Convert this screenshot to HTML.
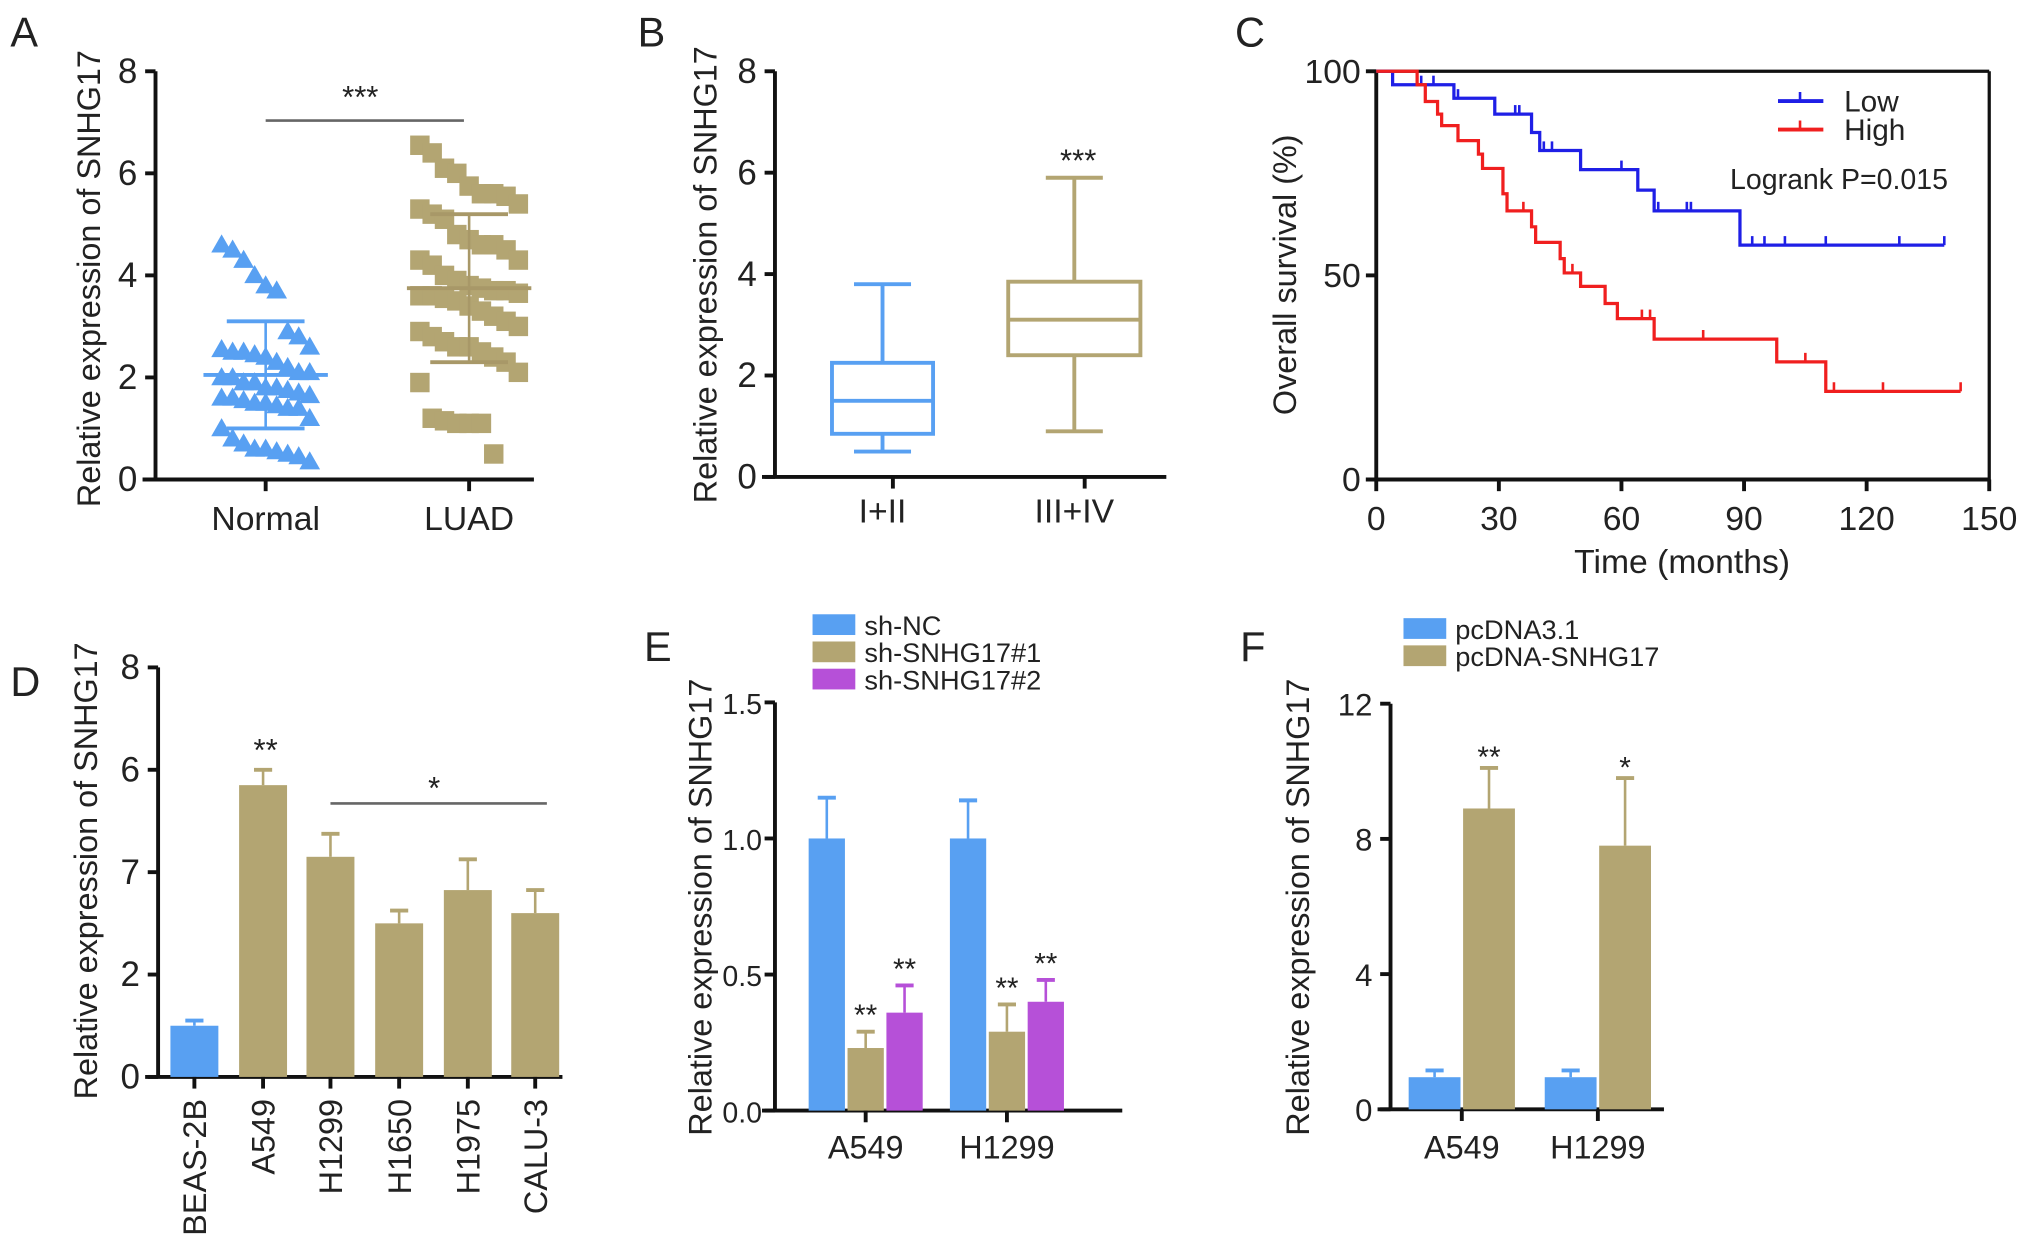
<!DOCTYPE html>
<html><head><meta charset="utf-8"><style>
html,body{margin:0;padding:0;background:#fff;}
svg{display:block;font-family:"Liberation Sans",Arial,sans-serif;}
</style></head><body>
<svg id="fig" width="2032" height="1259" viewBox="0 0 1568 971.5" preserveAspectRatio="none" xmlns="http://www.w3.org/2000/svg"></svg>
<script>
// ---------- DATA ----------
const aCategories=["Normal","LUAD"];
const aNormal=[4.6,4.5,4.3,4.0,3.8,3.7,2.9,2.8,2.6,2.55,2.5,2.5,2.45,2.4,2.3,2.2,2.1,2.1,2.0,2.0,1.9,1.9,1.8,1.8,1.75,1.7,1.65,1.6,1.6,1.55,1.5,1.5,1.45,1.4,1.4,1.2,1.0,0.8,0.7,0.6,0.6,0.55,0.5,0.45,0.35];
const aLuad=[6.55,6.4,6.1,6.0,5.75,5.6,5.6,5.55,5.4,5.3,5.2,5.1,4.8,4.7,4.6,4.6,4.5,4.3,4.3,4.2,4.0,3.9,3.8,3.75,3.7,3.7,3.65,3.6,3.6,3.55,3.5,3.4,3.3,3.2,3.1,3.0,2.9,2.8,2.7,2.6,2.6,2.5,2.4,2.3,2.1,1.9,1.2,1.15,1.1,1.1,1.1,0.5];
const aMeanSd=[[2.05,1.0,3.1],[3.75,2.3,5.2]];
const yTicks8=[0,2,4,6,8];

const bCategories=["I+II","III+IV"];
const bBoxes=[[0.5,0.85,1.5,2.25,3.8],[0.9,2.4,3.1,3.85,5.9]];

const cTicksX=[0,30,60,90,120,150];
const cTicksY=[0,50,100];
const lowT=[0,4,19,29,38,40,50,64,68,89,139];
const lowS=[100,96.7,93.4,89.5,85,80.6,75.9,70.9,65.8,57.4,57.4];
const lowCens=[11,14,20,34,35,41,43,60,69,76,77,92,95,100,110,128,139];
const highT=[0,10,12,15,16,20,25,26,31,32,38,39,45,46,50,56,59,68,98,110,143];
const highS=[100,96.7,92.6,89.5,86.7,83,79.7,76.2,70,65.8,61.9,58.1,54.1,50.6,47.3,43.1,39.4,34.4,28.8,21.6,21.6];
const highCens=[36,48,65,67,80,105,112,124,143];

const dCategories=["BEAS-2B","A549","H1299","H1650","H1975","CALU-3"];
const dValues=[1.0,5.7,4.3,3.0,3.65,3.2];
const dErr=[0.1,0.3,0.45,0.25,0.6,0.45];
const dTickLabels=["0","2","7","6","8"];

const eGroups=["A549","H1299"];
const eSeries=["sh-NC","sh-SNHG17#1","sh-SNHG17#2"];
const eValues=[[1.0,0.23,0.36],[1.0,0.29,0.40]];
const eErr=[[0.15,0.06,0.10],[0.14,0.10,0.08]];
const eTicks=[0,0.5,1.0,1.5];

const fGroups=["A549","H1299"];
const fSeries=["pcDNA3.1","pcDNA-SNHG17"];
const fValues=[[0.95,8.9],[0.95,7.8]];
const fErr=[[0.2,1.2],[0.2,2.0]];
const fTicks=[0,4,8,12];

// ---------- HELPERS ----------
const NS="http://www.w3.org/2000/svg";
const svg=document.getElementById('fig');
const BLUE="#58a0f2",TAN="#b3a572",PURPLE="#b650d8";
function mk(tag,attrs,parent,txt){const e=document.createElementNS(NS,tag);for(const k in attrs)e.setAttribute(k,attrs[k]);if(txt!==undefined)e.textContent=txt;(parent||svg).appendChild(e);return e;}
function lin(d0,d1,r0,r1){return v=>r0+(v-d0)*(r1-r0)/(d1-d0);}
function g(name){const e=mk('g',{});


return e;}
function line(p,x1,y1,x2,y2,st,w,name){const e=mk('line',{x1,y1,x2,y2,stroke:st,'stroke-width':w},p);


return e;}
function text(p,x,y,s,size,anchor,name,extra){const a={x,y,'font-size':size,'text-anchor':anchor||'middle',fill:'#222'};if(extra)for(const k in extra)a[k]=extra[k];const e=mk('text',a,p,s);


return e;}
function yAxis(p,x,y0,y1,ys,ticks,labels,fs,off){line(p,x,y0+1,x,y1,'#111',3,'y-axis-line');
ticks.forEach((t,i)=>{const y=ys(t);line(p,x-8,y,x,y,'#111',3,'y-tick');text(p,x-(off||14),y+9,labels?labels[i]:String(t),fs||26,'end','y-tick-label');});}
function yTitle(p,x,y,s){text(p,x,y,s,25,'middle','y-axis-title',{transform:`rotate(-90 ${x} ${y})`});}
function letter(x,y,s){text(svg,x,y,s,32,'start','panel-label-'+s.toLowerCase());}

// ---------- PANEL A ----------
(function(){const p=g('panel-a');letter(8,36,'A');
const ys=lin(0,8,370,55);const xs=[205,362];
yTitle(p,77,215,'Relative expression of SNHG17');
yAxis(p,120,370,55,ys,yTicks8,null,27);
line(p,110,370,412,370,'#111',3,'x-axis-line');
aCategories.forEach((c,i)=>{line(p,xs[i],370,xs[i],379,'#111',3,'x-tick');text(p,xs[i],409,c,26,'middle','x-tick-label');});
aNormal.forEach((v,i)=>{const x=xs[0]+(((i*37)%9)-4)*8.5;const y=ys(v);
const t=mk('polygon',{points:`${x},${y-8} ${x-8},${y+6} ${x+8},${y+6}`,fill:BLUE},p);

});
aLuad.forEach((v,i)=>{const x=xs[1]+(((i*37)%9)-4)*9.5;const y=ys(v);
const r=mk('rect',{x:x-7.5,y:y-7.5,width:15,height:15,fill:TAN},p);

});
aMeanSd.forEach((m,i)=>{const col=i?'#a89868':BLUE;line(p,xs[i]-48,ys(m[0]),xs[i]+48,ys(m[0]),col,3,'mean-line');
line(p,xs[i]-30,ys(m[1]),xs[i]+30,ys(m[1]),col,3,'sd-line');line(p,xs[i]-30,ys(m[2]),xs[i]+30,ys(m[2]),col,3,'sd-line');
line(p,xs[i],ys(m[1]),xs[i],ys(m[2]),col,2,'sd-vertical');});
line(p,205,93,358,93,'#666',2,'significance-bar');text(p,278,83,'***',24,'middle','significance-stars');
})();

// ---------- PANEL B ----------
(function(){const p=g('panel-b');letter(492,36,'B');
const ys=lin(0,8,368,55);const xs=[689,837];
yTitle(p,553,212,'Relative expression of SNHG17');
yAxis(p,598,368,55,ys,yTicks8,null,27);
line(p,588,368,900,368,'#111',3,'x-axis-line');
bCategories.forEach((c,i)=>{line(p,xs[i],368,xs[i],377,'#111',3,'x-tick');text(p,xs[i]-8,403,c,26,'middle','x-tick-label');});
bBoxes.forEach((b,i)=>{const col=i?TAN:BLUE;const x=xs[i]-8;const hw=i?51:39;
line(p,x,ys(b[0]),x,ys(b[1]),col,3,'whisker');line(p,x,ys(b[3]),x,ys(b[4]),col,3,'whisker');
line(p,x-22,ys(b[0]),x+22,ys(b[0]),col,3,'whisker-cap');line(p,x-22,ys(b[4]),x+22,ys(b[4]),col,3,'whisker-cap');
const r=mk('rect',{x:x-hw,y:ys(b[3]),width:hw*2,height:ys(b[1])-ys(b[3]),fill:'none',stroke:col,'stroke-width':3},p);


line(p,x-hw,ys(b[2]),x+hw,ys(b[2]),col,3,'median-line');});
text(p,832,132,'***',24,'middle','significance-stars');
})();

// ---------- PANEL C ----------
(function(){const p=g('panel-c');letter(953,36,'C');
const xs=lin(0,150,1062,1535),ys=lin(0,100,370,55);
yTitle(p,1000,212,'Overall survival (%)');
line(p,1062,55,1535,55,'#111',2.5,'plot-frame-top');line(p,1535,55,1535,370,'#111',2.5,'plot-frame-right');
line(p,1062,55,1062,371,'#111',3,'y-axis-line');line(p,1054,370,1536,370,'#111',3,'x-axis-line');
cTicksY.forEach(t=>{line(p,1054,ys(t),1062,ys(t),'#111',3,'y-tick');text(p,1050,ys(t)+9,String(t),26,'end','y-tick-label');});
cTicksX.forEach(t=>{line(p,xs(t),370,xs(t),379,'#111',3,'x-tick');text(p,xs(t),409,String(t),26,'middle','x-tick-label');});
text(p,1298,442,'Time (months)',26,'middle','x-axis-title');
function km(T,S,C,col,name){let d=`M${xs(T[0])},${ys(S[0])}`;for(let i=1;i<T.length;i++){d+=` H${xs(T[i])} V${ys(S[i])}`;}
const e=mk('path',{d,fill:'none',stroke:col,'stroke-width':2.5},p);


C.forEach(c=>{let s=S[0];for(let i=0;i<T.length;i++)if(T[i]<=c)s=S[i];line(p,xs(c),ys(s),xs(c),ys(s)-7,col,2,name+'-censor');});}
km(lowT,lowS,lowCens,'#1f1fe6','low-curve');km(highT,highS,highCens,'#f01f1f','high-curve');
line(p,1372,78,1407,78,'#1f1fe6',3,'legend-low-line');line(p,1389,78,1389,71,'#1f1fe6',2,'legend-low-tick');
text(p,1423,86,'Low',23,'start','legend-low-label');
line(p,1372,100,1407,100,'#f01f1f',3,'legend-high-line');line(p,1389,100,1389,93,'#f01f1f',2,'legend-high-tick');
text(p,1423,108,'High',23,'start','legend-high-label');
text(p,1335,146,'Logrank P=0.015',22,'start','logrank-annotation');
})();

// ---------- bar helper ----------
function bar(p,x,w,ys,v,e,col,name){const y=ys(v);const r=mk('rect',{x:x-w/2,y,width:w,height:ys(0)-y,fill:col},p);


line(p,x,y,x,ys(v+e),col,2,name+'-error');line(p,x-7,ys(v+e),x+7,ys(v+e),col,3,name+'-error-cap');}

// ---------- PANEL D ----------
(function(){const p=g('panel-d');letter(8,537,'D');
const ys=lin(0,8,831,515);const xs=[150,203,255,308,361,413];
yTitle(p,75,672,'Relative expression of SNHG17');
yAxis(p,122,831,515,ys,yTicks8,dTickLabels,27);
line(p,112,831,434,831,'#111',3,'x-axis-line');
dCategories.forEach((c,i)=>{bar(p,xs[i],37,ys,dValues[i],dErr[i],i?TAN:BLUE,'bar-'+c.toLowerCase());
line(p,xs[i],831,xs[i],840,'#111',3,'x-tick');text(p,xs[i]+9,848,c,25,'end','x-tick-label',{transform:`rotate(-90 ${xs[i]+9} 848)`});});
line(p,255,620,422,620,'#666',2,'significance-bar');text(p,335,616,'*',24,'middle','significance-star');
text(p,205,587,'**',24,'middle','significance-stars');
})();

// ---------- PANEL E ----------
(function(){const p=g('panel-e');letter(497,510,'E');
const ys=lin(0,1.5,857,542);const xs=[668,777];const cols=[BLUE,TAN,PURPLE];
yTitle(p,549,700,'Relative expression of SNHG17');
yAxis(p,598,857,542,ys,eTicks,["0.0","0.5","1.0","1.5"],22,10);
line(p,588,857,866,857,'#111',3,'x-axis-line');
eGroups.forEach((gname,gi)=>{eSeries.forEach((s,si)=>{const x=xs[gi]+(si-1)*30;bar(p,x,28,ys,eValues[gi][si],eErr[gi][si],cols[si],'bar-'+gname.toLowerCase()+'-'+s.toLowerCase().replace('#',''));
if(si>0)text(p,x,ys(eValues[gi][si]+eErr[gi][si])-5,'**',23,'middle','significance-stars');});
line(p,xs[gi],857,xs[gi],866,'#111',3,'x-tick');text(p,xs[gi],894,gname,25,'middle','x-tick-label');});
eSeries.forEach((s,i)=>{const r=mk('rect',{x:627,y:474+i*21,width:33,height:16,fill:cols[i]},p);


text(p,667,490+i*21,s,21,'start','legend-label');});
})();

// ---------- PANEL F ----------
(function(){const p=g('panel-f');letter(957,510,'F');
const ys=lin(0,12,856,543);const xs=[1128,1233];const cols=[BLUE,TAN];
yTitle(p,1010,700,'Relative expression of SNHG17');
yAxis(p,1073,856,543,ys,fTicks,null,24);
line(p,1063,856,1284,856,'#111',3,'x-axis-line');
fGroups.forEach((gname,gi)=>{fSeries.forEach((s,si)=>{const x=xs[gi]+(si?1:-1)*21;bar(p,x,40,ys,fValues[gi][si],fErr[gi][si],cols[si],'bar-'+gname.toLowerCase()+'-'+s.toLowerCase());});
line(p,xs[gi],856,xs[gi],865,'#111',3,'x-tick');text(p,xs[gi],894,gname,25,'middle','x-tick-label');});
text(p,1149,592,'**',23,'middle','significance-stars');text(p,1254,600,'*',23,'middle','significance-star');
fSeries.forEach((s,i)=>{const r=mk('rect',{x:1083,y:477+i*21,width:33,height:16,fill:cols[i]},p);


text(p,1123,493+i*21,s,21,'start','legend-label');});
})();
</script>
</body></html>
